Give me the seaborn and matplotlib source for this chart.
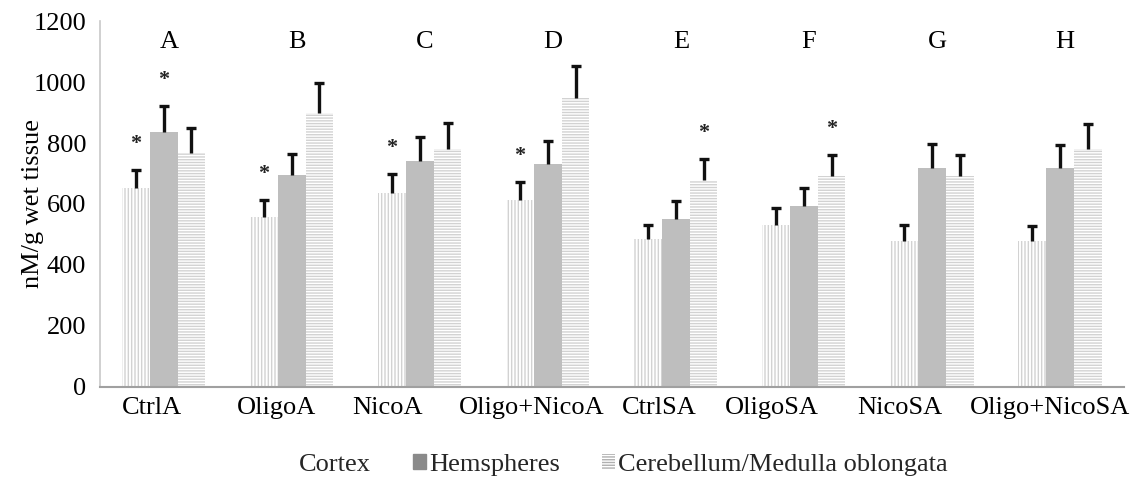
import numpy as np
import pandas as pd
import matplotlib
matplotlib.use("Agg")
import matplotlib.pyplot as plt
import matplotlib.transforms as mtransforms
import seaborn as sns
from matplotlib.patches import Patch

# Group labels and panel letters
groups = ["CtrlA", "OligoA", "NicoA", "Oligo+NicoA", "CtrlSA", "OligoSA", "NicoSA", "Oligo+NicoSA"]
letters = ["A", "B", "C", "D", "E", "F", "G", "H"]
regions = ["Cortex", "Hemspheres", "Cerebellum/Medulla oblongata"]

# Mean concentrations (nM/g wet tissue)
cortex = [652, 557, 636, 613, 485, 531, 480, 480]
hemispheres = [836, 695, 741, 731, 551, 595, 717, 717]
cerebellum = [767, 898, 780, 948, 679, 692, 692, 780]

# Upper error (SD)
cortex_err = [59, 56, 62, 59, 46, 56, 51, 48]
hemispheres_err = [85, 69, 79, 76, 59, 59, 79, 75]
cerebellum_err = [82, 99, 86, 104, 68, 68, 68, 82]

# Significance markers
cortex_sig = [1, 1, 1, 1, 0, 0, 0, 0]
hemispheres_sig = [1, 0, 0, 0, 0, 0, 0, 0]
cerebellum_sig = [0, 0, 0, 0, 1, 1, 0, 0]

df = pd.DataFrame({
    "group": groups * 3,
    "region": [regions[0]] * 8 + [regions[1]] * 8 + [regions[2]] * 8,
    "value": cortex + hemispheres + cerebellum,
})

sns.set_theme(style="white")
plt.rcParams["font.family"] = ["Liberation Serif", "DejaVu Serif"]
plt.rcParams["hatch.linewidth"] = 1.0

FS = 19

fig = plt.figure(figsize=(11.33, 4.8), dpi=100)
ax = fig.add_axes([0.088, 0.194, 0.904, 0.762])

palette = {regions[0]: "white", regions[1]: "#bebebe", regions[2]: "white"}
sns.barplot(data=df, x="group", y="value", hue="region", order=groups,
            hue_order=regions, palette=palette, width=0.65, errorbar=None,
            saturation=1, ax=ax, legend=False)

hatches = ["|||||", None, "------"]
hatch_colors = ["#d2d2d2", "#bebebe", "#d2d2d2"]
errs = [cortex_err, hemispheres_err, cerebellum_err]
sigs = [cortex_sig, hemispheres_sig, cerebellum_sig]
vals = [cortex, hemispheres, cerebellum]

bar_containers = list(ax.containers)
for k, cont in enumerate(bar_containers):
    xs = []
    for bar in cont.patches:
        bar.set_linewidth(0)
        if hatches[k]:
            bar.set_hatch(hatches[k])
            bar.set_edgecolor(hatch_colors[k])
        xs.append(bar.get_x() + bar.get_width() / 2)
    xs = np.array(xs)
    v = np.array(vals[k])
    e = np.array(errs[k])
    _, caps, _ = ax.errorbar(xs, v, yerr=[np.zeros_like(e), e], fmt="none",
                             ecolor="#111111", elinewidth=2.4, capsize=3.8,
                             capthick=2.4, zorder=5)
    # keep only the upper cap of each bar
    caps[0].set_visible(False)
    for x, top, s in zip(xs, v + e, sigs[k]):
        if s:
            ax.text(x, top + 85, "*", ha="center", va="center", fontsize=16,
                    fontweight="bold", color="#222222")

for i, lab in enumerate(letters):
    ax.text(i + 0.04, 1130, lab, ha="center", va="center", fontsize=FS,
            color="black")

ax.set_ylim(0, 1200)
ax.set_xlim(-0.5, 7.5)
ax.set_yticks(range(0, 1201, 200))
ax.tick_params(axis="y", length=0, labelsize=FS, pad=9.6, labelcolor="black")
ax.tick_params(axis="x", which="major", length=0, labelsize=FS, pad=7, labelcolor="black")
ax.set_xticks(np.arange(-0.5, 8.0, 1.0), minor=True)
ax.tick_params(axis="x", which="minor", length=6, width=1.2, color="#a0a0a0", direction="out")
ax.set_xlabel("")
ax.set_ylabel("nM/g wet tissue", fontsize=FS, color="black")
ax.yaxis.set_label_coords(-0.054, 0.5)

# category labels sit a little left of their slot centres
label_shift_px = [-12, -15, -32, -16, -17, -32, -32, -10]
for lab, dx in zip(ax.get_xticklabels(), label_shift_px):
    lab.set_transform(lab.get_transform() +
                      mtransforms.ScaledTranslation(dx / 100, 0, fig.dpi_scale_trans))

for s in ["top", "right"]:
    ax.spines[s].set_visible(False)
ax.spines["left"].set_color("#c8c8c8")
ax.spines["left"].set_linewidth(1.2)
ax.spines["bottom"].set_color("#a0a0a0")
ax.spines["bottom"].set_linewidth(1.5)

handles = [
    Patch(facecolor="white", edgecolor="white", linewidth=0),
    Patch(facecolor="#8a8a8a", edgecolor="#8a8a8a"),
    Patch(facecolor="white", edgecolor="#b0b0b0", hatch="------", linewidth=0),
]
fig.legend(handles, regions, loc="center", bbox_to_anchor=(0.543, 0.032), ncol=3,
           frameon=False, fontsize=FS, handlelength=0.5, handleheight=0.5,
           handletextpad=0.1, columnspacing=1.6)

fig.savefig("out.png", dpi=100)
